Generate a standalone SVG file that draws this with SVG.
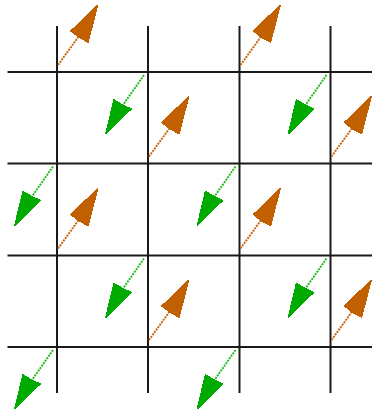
<svg xmlns="http://www.w3.org/2000/svg" xmlns:xlink="http://www.w3.org/1999/xlink" width="372" height="409" viewBox="0 0 372 409">
<style>
.grid line{stroke:#1a1a1a;stroke-width:2;}
.sh-o{stroke:#c2620a;stroke-width:1.9;stroke-dasharray:2 1;fill:none;}
.hd-o{fill:#c06000;stroke:#c06000;stroke-width:1.5;stroke-linejoin:round;shape-rendering:crispEdges;}
.sh-g{stroke:#1bbb1b;stroke-width:1.9;stroke-dasharray:2 1;fill:none;}
.hd-g{fill:#00aa00;stroke:#00aa00;stroke-width:1.5;stroke-linejoin:round;shape-rendering:crispEdges;}
</style>
<defs>
<g id="up">
<line class="sh-o" x1="1" y1="-7" x2="22" y2="-36"/>
<polygon class="hd-o" points="40.5,-66.5 31,-30 22.5,-34.5 14,-41"/>
</g>
<g id="down">
<line class="sh-g" x1="-4" y1="3" x2="-25" y2="33"/>
<polygon class="hd-g" points="-42,61.5 -34,28 -25.5,33 -17,37"/>
</g>
</defs>
<rect width="372" height="409" fill="#fff"/>
<g id="grid" class="grid">
<line x1="57" y1="26" x2="57" y2="393"/>
<line x1="148" y1="26" x2="148" y2="393"/>
<line x1="239.5" y1="26" x2="239.5" y2="393"/>
<line x1="330.5" y1="26" x2="330.5" y2="393"/>
<line x1="7.5" y1="72" x2="372" y2="72"/>
<line x1="7.5" y1="163.5" x2="372" y2="163.5"/>
<line x1="7.5" y1="255.5" x2="372" y2="255.5"/>
<line x1="7.5" y1="347" x2="372" y2="347"/>
</g>
<g id="arrows">
<g id="up1"><use xlink:href="#up" transform="translate(57,72)"/></g>
<g id="up2"><use xlink:href="#up" transform="translate(239.5,72)"/></g>
<g id="up3"><use xlink:href="#up" transform="translate(148,163.5)"/></g>
<g id="up4"><use xlink:href="#up" transform="translate(330.5,163.5)"/></g>
<g id="up5"><use xlink:href="#up" transform="translate(57,255.5)"/></g>
<g id="up6"><use xlink:href="#up" transform="translate(239.5,255.5)"/></g>
<g id="up7"><use xlink:href="#up" transform="translate(148,347)"/></g>
<g id="up8"><use xlink:href="#up" transform="translate(330.5,347)"/></g>
<g id="down1"><use xlink:href="#down" transform="translate(148,72)"/></g>
<g id="down2"><use xlink:href="#down" transform="translate(330.5,72)"/></g>
<g id="down3"><use xlink:href="#down" transform="translate(57,163.5)"/></g>
<g id="down4"><use xlink:href="#down" transform="translate(239.5,163.5)"/></g>
<g id="down5"><use xlink:href="#down" transform="translate(148,255.5)"/></g>
<g id="down6"><use xlink:href="#down" transform="translate(330.5,255.5)"/></g>
<g id="down7"><use xlink:href="#down" transform="translate(57,347)"/></g>
<g id="down8"><use xlink:href="#down" transform="translate(239.5,347)"/></g>
</g>
</svg>
